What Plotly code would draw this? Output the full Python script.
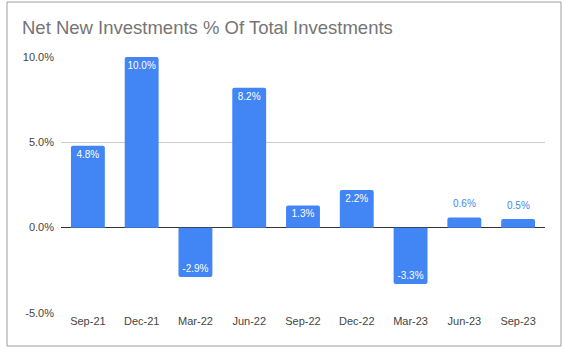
import plotly.graph_objects as go

categories = ["Sep-21", "Dec-21", "Mar-22", "Jun-22", "Sep-22", "Dec-22", "Mar-23", "Jun-23", "Sep-23"]
values = [4.8, 10.0, -2.9, 8.2, 1.3, 2.2, -3.3, 0.6, 0.5]
label_inside = [True, True, True, True, True, True, True, False, False]
y_ticks = [-5, 0, 5, 10]
y_tick_labels = ["-5.0%", "0.0%", "5.0%", "10.0%"]

BLUE = "#4285F4"
FONT = "Liberation Sans, Arial, sans-serif"

labels = [f"{v:.1f}%" for v in values]

fig = go.Figure(go.Bar(
    x=categories,
    y=values,
    marker=dict(color=BLUE, line=dict(width=0), cornerradius=2),
    text=[t if ins else "" for t, ins in zip(labels, label_inside)],
    textposition="inside",
    insidetextanchor="end",
    insidetextfont=dict(color="white", size=10, family=FONT),
    textangle=0,
    constraintext="none",
    cliponaxis=False,
))

annotations = [
    dict(x=c, y=v, xref="x", yref="y", text=t, showarrow=False,
         yanchor="bottom", yshift=6,
         font=dict(color=BLUE, size=10, family=FONT))
    for c, v, t, ins in zip(categories, values, labels, label_inside) if not ins
]

fig.update_layout(
    width=564, height=350,
    margin=dict(l=61, r=19, t=57, b=37),
    paper_bgcolor="white",
    plot_bgcolor="white",
    bargap=0.37,
    showlegend=False,
    font=dict(family=FONT, color="#444444", size=11),
    title=dict(
        text="Net New Investments % Of Total Investments",
        x=22/564, xanchor="left", xref="container",
        y=1 - 28/350, yanchor="middle", yref="container",
        font=dict(family=FONT, size=18.5, color="#757575"),
    ),
    xaxis=dict(
        showgrid=False, showline=False, ticks="",
        tickfont=dict(size=11, color="#444444"),
    ),
    yaxis=dict(
        range=[-5.005, 10.005],
        tickvals=y_ticks, ticktext=y_tick_labels,
        showgrid=True, gridcolor="#cccccc", gridwidth=1,
        zeroline=True, zerolinecolor="#333333", zerolinewidth=1,
        showline=False, ticks="",
        ticklabelstandoff=6,
        tickfont=dict(size=11, color="#444444"),
    ),
    annotations=annotations,
    shapes=[dict(
        type="rect", xref="paper", yref="paper",
        x0=(7 - 61) / 484, x1=(561 - 61) / 484,
        y0=(313 - 346) / 256, y1=(313 - 2) / 256,
        line=dict(color="#9e9e9e", width=1), fillcolor="rgba(0,0,0,0)",
        layer="below",
    )],
)

fig.write_html("out.html")
